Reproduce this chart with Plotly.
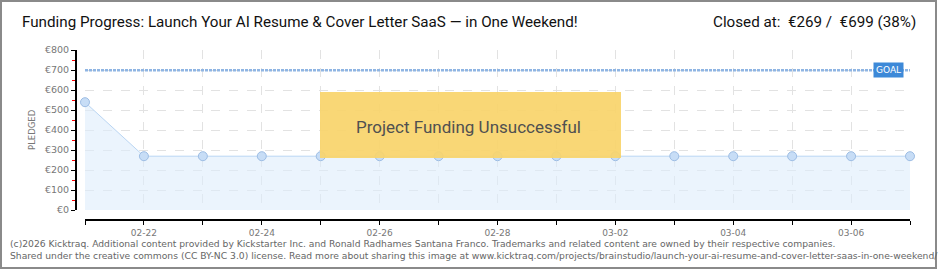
import plotly.graph_objects as go

# ---- data ----
dates = ["2026-02-21", "2026-02-22", "2026-02-23", "2026-02-24", "2026-02-25",
         "2026-02-26", "2026-02-27", "2026-02-28", "2026-03-01", "2026-03-02",
         "2026-03-03", "2026-03-04", "2026-03-05", "2026-03-06", "2026-03-07"]
pledged = [539, 269, 269, 269, 269, 269, 269, 269, 269, 269, 269, 269, 269, 269, 269]
goal = 699
title_text = "Funding Progress: Launch Your AI Resume & Cover Letter SaaS \u2014 in One Weekend!"
closed_text = "Closed at:  \u20ac269 /  \u20ac699 (38%)"
footer1 = ("(c)2026 Kicktraq. Additional content provided by Kickstarter Inc. and Ronald Radhames "
           "Santana Franco. Trademarks and related content are owned by their respective companies.")
footer2 = ("Shared under the creative commons (CC BY-NC 3.0) license. Read more about sharing this image at "
           "www.kicktraq.com/projects/brainstudio/launch-your-ai-resume-and-cover-letter-saas-in-one-weekend/")

W, H = 940, 270
ML, MR, MT, MB = 76, 30, 50, 50
PW = W - ML - MR
PH = H - MT - MB


def px(x):
    return (x - ML) / PW


def py(y):
    return (H - MB - y) / PH


GRID = "#e2e2e2"
DAY = 86400000

fig = go.Figure()
fig.add_trace(go.Scatter(
    x=dates, y=pledged, mode="lines+markers",
    line=dict(color="#b9d5f3", width=1),
    fill="tozeroy", fillcolor="rgba(222,236,252,0.6)",
    marker=dict(size=9, color="#c7ddf6", line=dict(color="#9dbde4", width=1)),
    cliponaxis=False, hoverinfo="skip", showlegend=False,
))

fig.update_layout(
    width=W, height=H,
    margin=dict(l=ML, r=MR, t=MT, b=MB),
    paper_bgcolor="white", plot_bgcolor="white",
    xaxis=dict(
        type="date", range=[dates[0], dates[-1]],
        domain=[px(85), 1], anchor="free", position=0,
        showline=True, linecolor="#000", linewidth=2,
        ticks="outside", ticklen=4, tickcolor="#000", tickwidth=1,
        dtick=2 * DAY, tick0="2026-02-22", tickformat="%m-%d",
        tickfont=dict(family="DejaVu Sans", size=9, color="#777"),
        ticklabelstandoff=0,
        showgrid=True, gridcolor=GRID, griddash="dash", gridwidth=1,
        zeroline=False,
        minor=dict(dtick=DAY, tick0=dates[0], ticks="outside", ticklen=4, tickcolor="#000",
                   showgrid=True, gridcolor=GRID, griddash="dash"),
    ),
    yaxis=dict(
        range=[0, 800], domain=[py(210), 1], anchor="free", position=0,
        showline=True, linecolor="#000", linewidth=2,
        ticks="outside", ticklen=4, tickcolor="#000", tickwidth=1,
        dtick=100, tick0=0, tickprefix="\u20ac",
        tickfont=dict(family="DejaVu Sans", size=9.5, color="#777"),
        showgrid=True, gridcolor=GRID, griddash="dash", gridwidth=1,
        zeroline=False,
        minor=dict(dtick=50, tick0=0, ticks="outside", ticklen=3, tickcolor="red", showgrid=False),
    ),
)

shapes = [
    # goal line
    dict(type="line", xref="x", yref="y", x0=dates[0], x1=dates[-1], y0=goal, y1=goal,
         line=dict(color="#8fb5e3", width=2.5, dash="3px,1px"), layer="above"),
    # unsuccessful box
    dict(type="rect", xref="paper", yref="paper", x0=px(320), x1=px(621), y0=py(158), y1=py(92),
         fillcolor="#f9d46a", opacity=0.92, line=dict(width=0), layer="above"),
    # outer border
    dict(type="rect", xref="paper", yref="paper", x0=px(1), x1=px(936), y0=py(268), y1=py(1),
         line=dict(color="#8a8a8a", width=2), layer="above"),
]
fig.update_layout(shapes=shapes)

ann = [
    dict(text=title_text, xref="paper", yref="paper", x=px(20), y=py(22),
         xanchor="left", yanchor="middle", showarrow=False,
         font=dict(family="Roboto", size=15.2, color="#111")),
    dict(text=closed_text, xref="paper", yref="paper", x=px(918), y=py(22),
         xanchor="right", yanchor="middle", showarrow=False,
         font=dict(family="Roboto", size=15.2, color="#111")),
    dict(text="Project Funding Unsuccessful", xref="paper", yref="paper",
         x=px(468), y=py(127), xanchor="center", yanchor="middle", showarrow=False,
         font=dict(family="Roboto", size=17, color="#505050")),
    dict(text="GOAL", xref="paper", yref="y", x=px(888), y=goal,
         xanchor="center", yanchor="middle", showarrow=False,
         bgcolor="#3d89d8", borderpad=2,
         font=dict(family="DejaVu Sans", size=9, color="white")),
    dict(text="PLEDGED", xref="paper", yref="paper", x=px(32), y=py(130),
         xanchor="center", yanchor="middle", textangle=-90, showarrow=False,
         font=dict(family="DejaVu Sans", size=8.5, color="#777")),
    dict(text=footer1, xref="paper", yref="paper", x=px(8), y=py(243),
         xanchor="left", yanchor="middle", showarrow=False,
         font=dict(family="DejaVu Sans", size=9.2, color="#666")),
    dict(text=footer2, xref="paper", yref="paper", x=px(8), y=py(256),
         xanchor="left", yanchor="middle", showarrow=False,
         font=dict(family="DejaVu Sans", size=9.2, color="#666")),
]
fig.update_layout(annotations=ann)

fig.write_html("out.html")
